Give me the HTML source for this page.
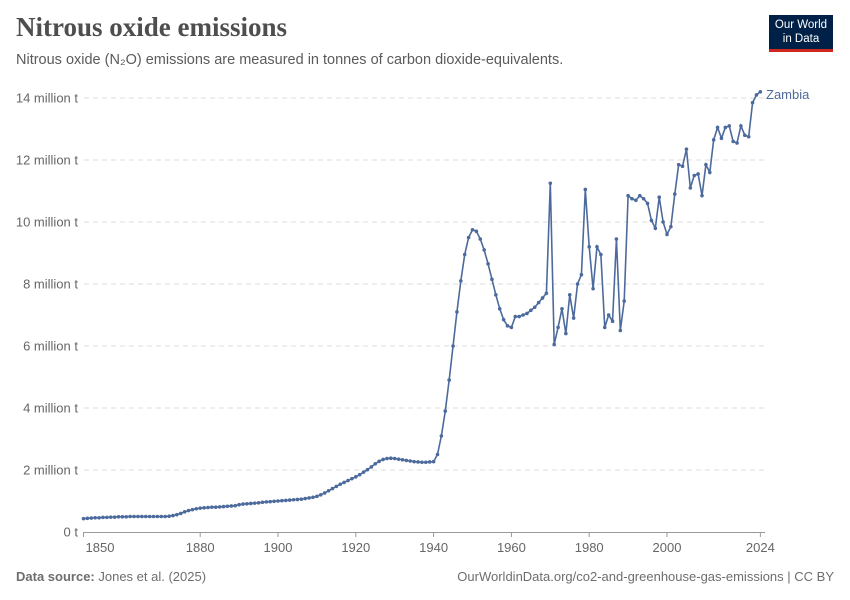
<!DOCTYPE html>
<html><head><meta charset="utf-8"><style>
body{margin:0;background:#fff;font-family:"Liberation Sans",sans-serif;}
#wrap{position:relative;width:850px;height:600px;overflow:hidden;}
.title{position:absolute;left:16px;top:12px;font-family:"Liberation Serif",serif;font-weight:bold;font-size:27px;color:#4e4e4e;}
.sub{position:absolute;left:16px;top:52px;font-size:14.5px;color:#5b5b5b;}
.logo{position:absolute;left:769px;top:15px;width:64px;height:37px;background:#002147;border-bottom:3px solid #ce261e;color:#fff;font-size:11.5px;text-align:center;line-height:14px;padding-top:3px;box-sizing:border-box;}
.foot{position:absolute;top:569px;font-size:13px;color:#6e6e6e;}
</style></head><body><div id="wrap">
<div class="title">Nitrous oxide emissions</div>
<div class="sub">Nitrous oxide (N₂O) emissions are measured in tonnes of carbon dioxide-equivalents.</div>
<div class="logo">Our World<br>in Data</div>
<svg id="chart" width="850" height="600" style="position:absolute;left:0;top:0"></svg>
<div class="foot" style="left:16px"><b>Data source:</b> Jones et al. (2025)</div>
<div class="foot" style="right:16px">OurWorldinData.org/co2-and-greenhouse-gas-emissions | CC BY</div>
</div>
<script>
const years=[];for(let y=1850;y<=2024;y++)years.push(y);
const values=[0.43,0.44,0.45,0.46,0.46,0.47,0.47,0.48,0.48,0.49,0.49,0.49,0.5,0.5,0.5,0.5,0.5,0.5,0.5,0.5,
0.5,0.5,0.51,0.53,0.56,0.6,0.65,0.69,0.72,0.75,
0.77,0.78,0.79,0.8,0.8,0.81,0.82,0.83,0.84,0.85,
0.88,0.9,0.91,0.92,0.93,0.94,0.96,0.97,0.98,0.99,
1.0,1.01,1.02,1.03,1.04,1.05,1.06,1.08,1.1,1.12,
1.15,1.2,1.26,1.33,1.4,1.47,1.54,1.6,1.66,1.72,
1.78,1.85,1.93,2.01,2.1,2.2,2.28,2.34,2.37,2.38,
2.37,2.35,2.33,2.31,2.29,2.27,2.26,2.25,2.25,2.26,
2.27,2.5,3.1,3.9,4.9,6.0,7.1,8.1,8.95,9.5,
9.75,9.7,9.45,9.1,8.65,
8.15,7.65,7.2,6.85,6.65,6.6,6.95,6.95,7.0,7.05,
7.15,7.25,7.4,7.55,7.7,11.25,6.05,6.6,7.2,6.4,
7.65,6.9,8.0,8.3,11.05,9.2,7.85,9.2,8.95,6.6,
7.0,6.8,9.45,6.5,7.45,10.85,10.75,10.7,10.85,10.75,
10.6,10.05,9.8,10.8,10.0,9.6,9.85,10.9,11.85,11.8,
12.35,11.1,11.5,11.55,10.85,11.85,11.6,12.65,13.05,12.7,
13.05,13.1,12.6,12.55,13.1,12.8,12.75,13.85,14.1,14.2];
const yTicks=[0,2,4,6,8,10,12,14];
const yTickLabels=["0 t","2 million t","4 million t","6 million t","8 million t","10 million t","12 million t","14 million t"];
const xTicks=[1850,1880,1900,1920,1940,1960,1980,2000,2024];
const NS="http://www.w3.org/2000/svg",svg=document.getElementById('chart');
const X=y=>83.5+(y-1850)*3.89, Y=v=>532-v*31;
function mk(t,a){const e=document.createElementNS(NS,t);for(const k in a)e.setAttribute(k,a[k]);svg.appendChild(e);return e;}
yTicks.forEach((t,i)=>{
 if(t>0){const g=mk('line',{x1:84,x2:765,y1:Y(t),y2:Y(t),stroke:'#ddd','stroke-dasharray':'5,4'});
 
 }
 const l=mk('text',{x:78,y:Y(t)+4.5,'text-anchor':'end','font-size':13,fill:'#666','font-family':'Liberation Sans'});l.textContent=yTickLabels[i];
 
 
});
const ax=mk('line',{x1:83,x2:765,y1:532.5,y2:532.5,stroke:'#999'});


xTicks.forEach((t,i)=>{
 const tk=mk('line',{x1:X(t),x2:X(t),y1:532,y2:537,stroke:'#999'});
 
 
 const l=mk('text',{x:i==0?100:X(t),y:552,'text-anchor':'middle','font-size':13,fill:'#666','font-family':'Liberation Sans'});l.textContent=t;
 
 
});
const p=mk('polyline',{points:years.map((y,i)=>X(y)+','+Y(values[i])).join(' '),fill:'none',stroke:'#4c6a9c','stroke-width':1.6});


years.forEach((y,i)=>{const c=mk('circle',{cx:X(y),cy:Y(values[i]),r:1.8,fill:'#4c6a9c'});
 
 });
const lab=mk('text',{x:766,y:Y(values[values.length-1])+7,'font-size':13,fill:'#4c6a9c','font-family':'Liberation Sans'});lab.textContent='Zambia';


</script></body></html>
